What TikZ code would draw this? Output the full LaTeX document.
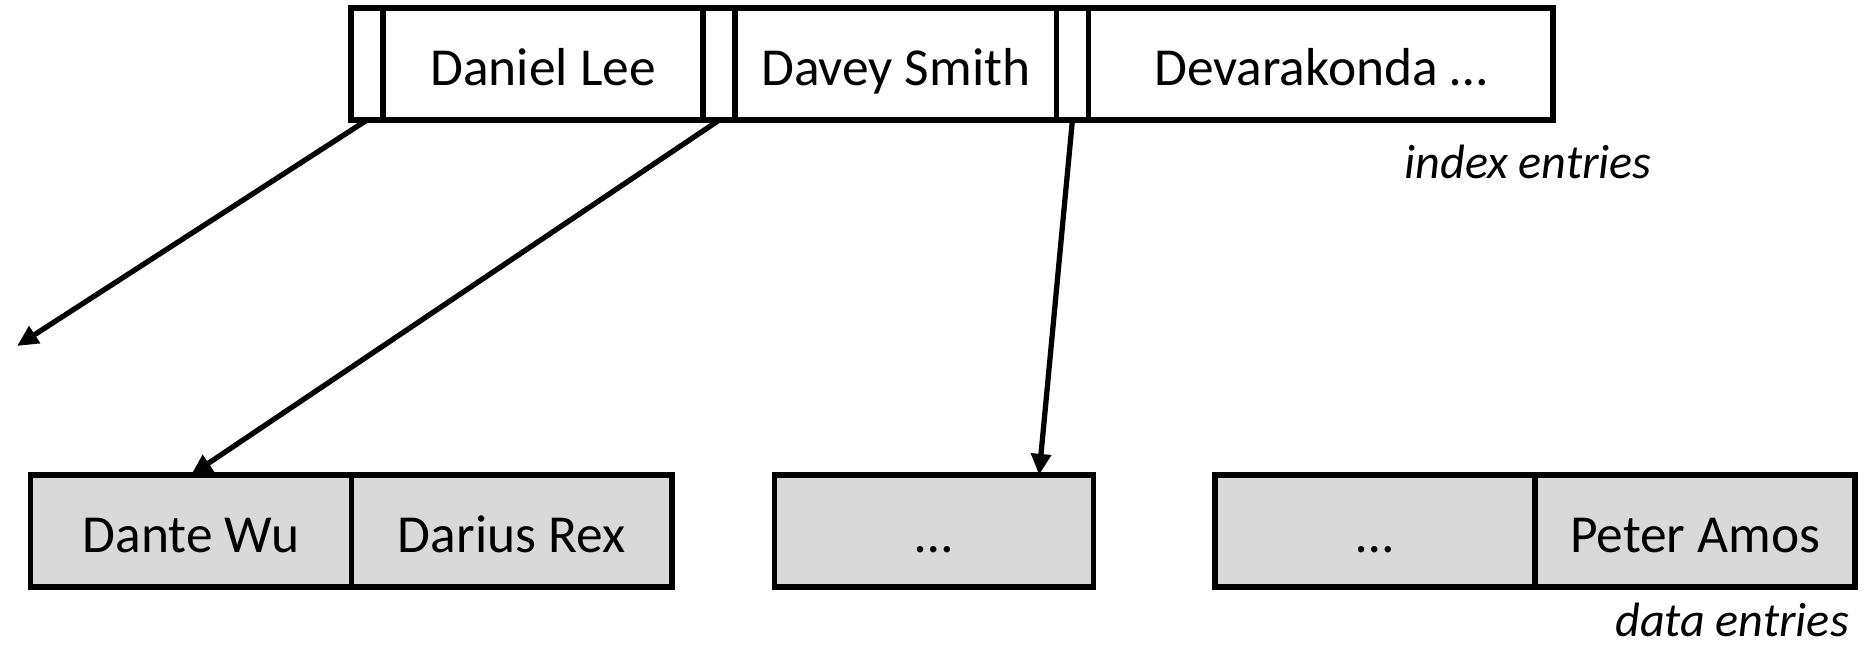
\documentclass[tikz,border=0pt]{standalone}
\usepackage{fontspec}
\setmainfont{Carlito}
\usetikzlibrary{arrows.meta, positioning}
\definecolor{leafgray}{HTML}{D9D9D9}

\begin{document}
\begin{tikzpicture}[x=0.01cm, y=-0.01cm, >={Triangle[length=6pt, width=5.5pt]},
  font=\fontsize{15.2}{18}\selectfont,
  cell/.style={draw, line width=1.6pt, outer sep=0pt, inner sep=0pt,
    minimum height=1.12cm, text height=12pt, text depth=0pt},
  ptr/.style={cell, minimum width=0.32cm},
  keycell/.style={cell, minimum width=#1},
  leafcell/.style={cell, fill=leafgray, minimum width=#1},
  ptrline/.style={->, line width=1.5pt},
  caption/.style={font=\fontsize{13.7}{16}\selectfont\itshape, anchor=base}]
  \useasboundingbox (0,0) rectangle (1866,644);

  % index node: pointers and keys
  \node[ptr] (p0) at (367,64) {};
  \node[keycell=3.2cm, right=0pt of p0] (k1) {Daniel Lee};
  \node[ptr, right=0pt of k1] (p1) {};
  \node[keycell=3.21cm, right=0pt of p1] (k2) {Davey Smith};
  \node[ptr, right=0pt of k2] (p2) {};
  \node[keycell=4.64cm, right=0pt of p2] (k3) {Devarakonda \dots};
  \node[caption] (idx) at (1528,178) {index entries};

  % leaf pages
  \node[leafcell=3.21cm] (d1) at (191,531) {Dante Wu};
  \node[leafcell=3.2cm, right=0pt of d1] (d2) {Darius Rex};
  \node[leafcell=3.19cm] (e1) at (934,531) {\dots};
  \node[leafcell=3.2cm] (f1) at (1375,531) {\dots};
  \node[leafcell=3.2cm, right=0pt of f1] (f2) {Peter Amos};
  \node[caption] (dat) at (1732,636) {data entries};

  % pointers down to the leaves
  \coordinate (left) at (17,346);
  \draw[ptrline] (p0.south) -- (left);
  \draw[ptrline] (p1.south) -- (d1.north);
  \draw[ptrline] (p2.south) -- ([xshift=1.05cm]e1.north);
\end{tikzpicture}
\end{document}
